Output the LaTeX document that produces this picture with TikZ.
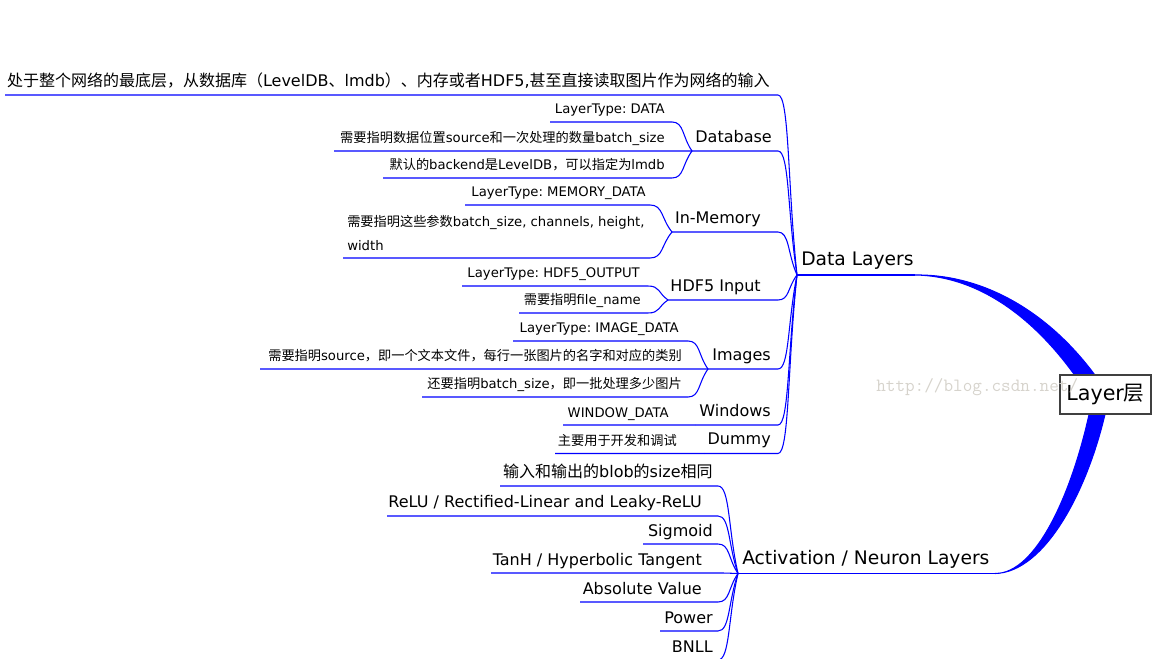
\documentclass[tikz,border=0pt]{standalone}
\usepackage{fontspec}
\setmainfont{DejaVu Sans}
\newfontfamily\cjk{Noto Sans CJK SC}
\usetikzlibrary{calc}
\frenchspacing
\definecolor{markgray}{RGB}{214,211,204}
\tikzset{
  edge/.style={draw=blue, line width=0.8pt},
  rootbox/.style={draw=black!75, fill=white, line width=0.8pt, minimum width=68.25pt, minimum height=29.25pt, inner sep=0pt, font=\fontsize{15.5}{18}\selectfont},
  maintopic/.style={inner sep=0pt, anchor=base west, font=\fontsize{14}{17}\selectfont},
  subtopic/.style={inner sep=0pt, anchor=base east, font=\fontsize{12}{14}\selectfont},
  leaftopic/.style={inner sep=0pt, anchor=base east, font=\fontsize{9.9}{18.5}\selectfont},
}

\begin{document}
\begin{tikzpicture}[x=0.75pt, y=-0.75pt]
\useasboundingbox (0,0) rectangle (1154,659);

%main topics
\node[maintopic] (dl) at (801,266) {Data Layers};
\coordinate (dl-l) at (797,275); \coordinate (dl-r) at (915,275);
\draw[edge] (dl-l) -- (dl-r);

\node[maintopic] (act) at (742,564) {Activation / Neuron Layers};
\coordinate (act-l) at (738,573.5); \coordinate (act-r) at (995,573.5);
\draw[edge] (act-l) -- (act-r);

%Data Layers
\foreach \name/\tx/\uy/\lx/\txt in {desc/770/95/5/{{\cjk 处于整个网络的最底层，从数据库（}LevelDB{\cjk 、}lmdb{\cjk ）、内存或者}HDF5,{\cjk 甚至直接读取图片作为网络的输入}},
    db/772/151/692/Database, im/761/232/672/In-Memory, hdf/761/300/668/{HDF5 Input},
    img/771/369/708/Images, win/771/425/695/Windows, dum/771/453.5/704/Dummy}
  {
  \node[subtopic] (\name) at (\tx,\uy-8.5) {\txt};
  \coordinate (\name-l) at (\lx,\uy); \coordinate (\name-r) at (778,\uy);
  \draw[edge] (\name-l) -- (\name-r) .. controls ($(\name-r)!0.6!(\name-r -| dl-l)$) and ($(dl-l)!0.5!(\name-r)$) .. (dl-l);
  }

\foreach \name/\tx/\uy/\lx/\rx/\parent/\txt in {dbA/665/122/550/672/db/{LayerType: DATA},
    dbB/665/151/334/672/db/{{\cjk 需要指明数据位置}source{\cjk 和一次处理的数量}batch\_size},
    dbC/665/178/383/672/db/{{\cjk 默认的}backend{\cjk 是}LevelDB{\cjk ，可以指定为}lmdb},
    imA/646/205/465/650/im/{LayerType: MEMORY\_DATA},
    hA/640/286/462/648/hdf/{LayerType: HDF5\_OUTPUT},
    hB/641/313/519/648/hdf/{{\cjk 需要指明}file\_name},
    iA/679/341/513/688/img/{LayerType: IMAGE\_DATA},
    iB/682/369/260/688/img/{{\cjk 需要指明}source{\cjk ，即一个文本文件，每行一张图片的名字和对应的类别}},
    iC/682/397/422/688/img/{{\cjk 还要指明}batch\_size{\cjk ，即一批处理多少图片}},
    wA/669/425/563/675/win/{WINDOW\_DATA},
    dA/677/453.5/555/684/dum/{{\cjk 主要用于开发和调试}}}
  {
  \node[leaftopic] (\name) at (\tx,\uy-8) {\txt};
  \coordinate (\name-l) at (\lx,\uy); \coordinate (\name-r) at (\rx,\uy);
  \draw[edge] (\name-l) -- (\name-r) .. controls ($(\name-r)!0.6!(\name-r -| \parent-l)$) and ($(\parent-l)!0.5!(\name-r)$) .. (\parent-l);
  }

\node[leaftopic, anchor=base west, align=left] (imB) at (347,251) {{\cjk 需要指明这些参数}batch\_size, channels, height,\\width};
\coordinate (imB-l) at (343,258); \coordinate (imB-r) at (650,258);
\draw[edge] (imB-l) -- (imB-r) .. controls ($(imB-r)!0.6!(imB-r -| im-l)$) and ($(im-l)!0.5!(imB-r)$) .. (im-l);

%Activation / Neuron Layers
\foreach \name/\tx/\uy/\lx/\txt in {aA/713/486/500/{{\cjk 输入和输出的}blob{\cjk 的}size{\cjk 相同}},
    aB/702/516/387/{ReLU / Rectified-Linear and Leaky-ReLU}, aC/713/544/643/Sigmoid,
    aD/702/573/491/{TanH / Hyperbolic Tangent}, aE/702/602/580/{Absolute Value},
    aF/713/631/660/Power, aG/713/660/667/BNLL}
  {
  \node[subtopic] (\name) at (\tx,\uy-8) {\txt};
  \coordinate (\name-l) at (\lx,\uy); \coordinate (\name-r) at (718,\uy);
  \draw[edge] (\name-l) -- (\name-r) .. controls ($(\name-r)!0.6!(\name-r -| act-l)$) and ($(act-l)!0.5!(\name-r)$) .. (act-l);
  }

%root and thick branches
\path[edge, fill=blue] (dl-r) .. controls (987,274) and (1056,316) .. (1104,388) -- (1090,398) .. controls (1044,324) and (983,276) .. (dl-r) -- cycle;
\path[edge, fill=blue] (act-r) .. controls (1045,572.5) and (1088,490) .. (1106,410) -- (1090,410) .. controls (1073,490) and (1037,574) .. (act-r) -- cycle;
\node[rootbox] (root) at (1105.5,394.5) {Layer{\cjk 层}};

\node[anchor=base west, inner sep=0pt, text=markgray, font=\ttfamily\fontsize{14}{16}\selectfont] (mark) at (876,392) {http://blog.csdn.net/};

\end{tikzpicture}
\end{document}
